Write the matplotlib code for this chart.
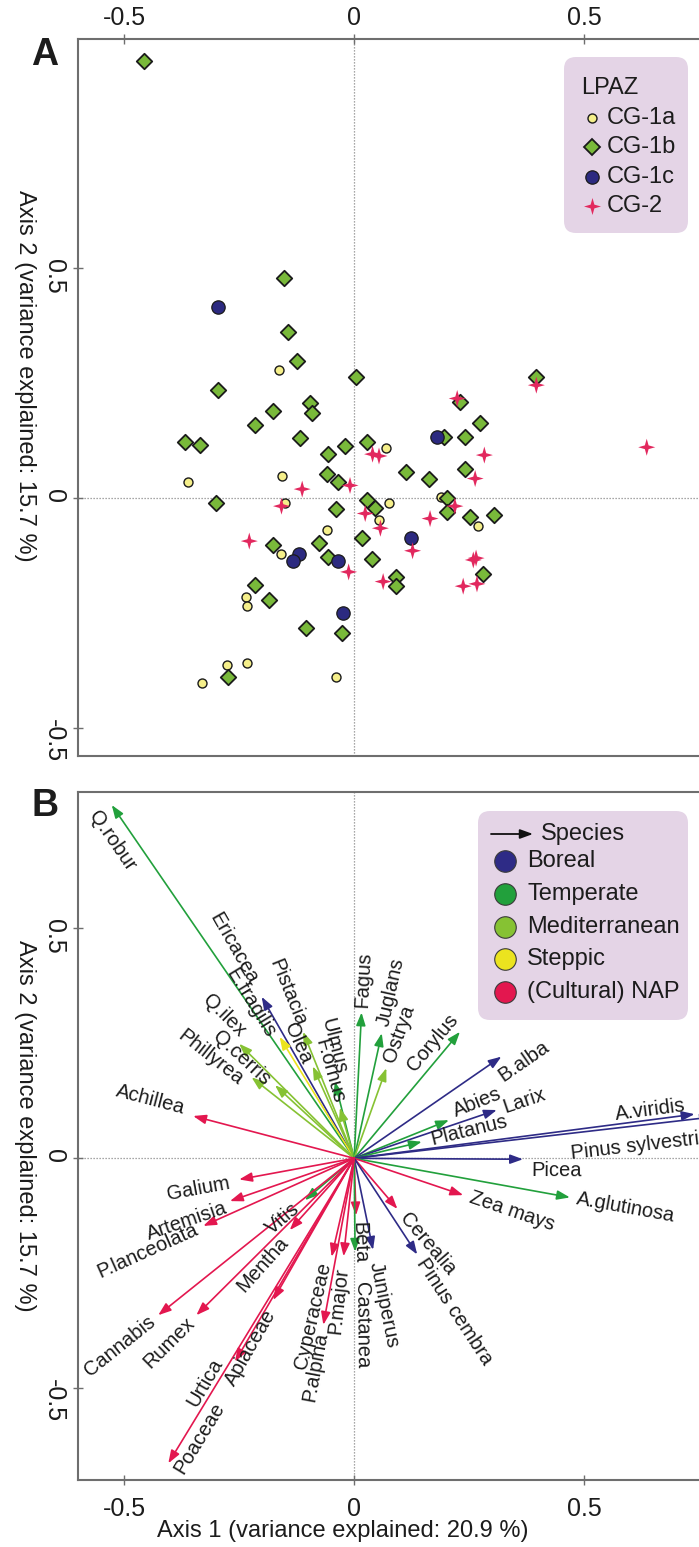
import numpy as np
import matplotlib
matplotlib.use("Agg")
import matplotlib.pyplot as plt
from matplotlib.path import Path
from matplotlib.patches import FancyBboxPatch
from matplotlib.transforms import Affine2D

plt.rcParams['font.family'] = ['Liberation Sans', 'DejaVu Sans']
plt.rcParams['axes.unicode_minus'] = False

W, H, DPI = 699, 1547, 100
SCALE = 460.0           # pixels per axis unit (both axes, equal aspect)
TXT = '#1c1c1c'
FRAME = '#6e6e6e'

# ---------------- Panel A: sample scores by pollen zone (LPAZ) ----------------
zones = ['CG-1a', 'CG-1b', 'CG-1c', 'CG-2']

cg1a_x = [-0.163, -0.361, -0.156, -0.151, -0.058, -0.158, -0.236, -0.234, -0.277,
          -0.232, -0.330, -0.040, 0.069, 0.075, 0.054, 0.188, 0.270]
cg1a_y = [0.279, 0.035, 0.048, -0.010, -0.069, -0.121, -0.214, -0.234, -0.362,
          -0.359, -0.402, -0.388, 0.109, -0.011, -0.047, 0.002, -0.060]

cg1b_x = [-0.457, -0.152, -0.143, -0.124, 0.005, -0.295, -0.096, -0.091, -0.176,
          -0.215, -0.118, -0.368, -0.335, -0.057, -0.019, -0.059, -0.035, -0.301,
          -0.040, -0.176, -0.076, -0.057, 0.016, -0.216, -0.185, -0.105, -0.026,
          -0.275, 0.396, 0.230, 0.273, 0.195, 0.241, 0.028, 0.112, 0.162, 0.241,
          0.027, 0.046, 0.038, 0.202, 0.201, 0.252, 0.304, 0.280, 0.090, 0.092]
cg1b_y = [0.950, 0.480, 0.362, 0.299, 0.264, 0.236, 0.208, 0.186, 0.190,
          0.159, 0.132, 0.122, 0.116, 0.097, 0.114, 0.053, 0.036, -0.010,
          -0.024, -0.102, -0.098, -0.127, -0.087, -0.188, -0.221, -0.281, -0.292,
          -0.388, 0.264, 0.210, 0.164, 0.133, 0.134, 0.122, 0.057, 0.041, 0.064,
          -0.004, -0.020, -0.132, 0.000, -0.029, -0.040, -0.036, -0.165, -0.170, -0.191]

cg1c_x = [-0.295, -0.120, -0.133, -0.035, -0.024, 0.179, 0.123]
cg1c_y = [0.415, -0.122, -0.136, -0.136, -0.250, 0.133, -0.087]

cg2_x = [-0.113, -0.009, -0.158, -0.228, -0.012, 0.396, 0.224, 0.040, 0.054, 0.283,
         0.263, 0.024, 0.057, 0.127, 0.165, 0.219, 0.259, 0.265, 0.237, 0.267,
         0.063, 0.636]
cg2_y = [0.020, 0.028, -0.017, -0.093, -0.160, 0.246, 0.217, 0.096, 0.092, 0.094,
         0.043, -0.033, -0.065, -0.114, -0.044, -0.017, -0.134, -0.130, -0.191, -0.186,
         -0.181, 0.111]

# ---------------- Panel B: species scores (arrow tips) ----------------
species = ['Q.robur', 'Ericacea', 'Pistacia', 'E.fragilis', 'Q.ilex', 'Olea', 'Ulmus',
           'F.ornus', 'Q.cerris', 'Phillyrea', 'Fagus', 'Juglans', 'Ostrya', 'Corylus',
           'B.alba', 'Abies', 'Larix', 'Platanus', 'A.viridis', 'Pinus sylvestris',
           'Picea', 'A.glutinosa', 'Zea mays', 'Cerealia', 'Pinus cembra', 'Juniperus',
           'Beta', 'Castanea', 'P.major', 'Cyperaceae', 'P.alpina', 'Apiaceae',
           'Urtica', 'Poaceae', 'Mentha', 'Vitis', 'Rumex', 'Cannabis',
           'P.lanceolata', 'Artemisia', 'Galium', 'Achillea']
sp_x = [-0.527, -0.201, -0.111, -0.162, -0.250, -0.090, -0.042,
        -0.031, -0.172, -0.223, 0.016, 0.060, 0.070, 0.230,
        0.320, 0.206, 0.310, 0.147, 0.740, 0.780,
        0.367, 0.469, 0.237, 0.094, 0.137, 0.041,
        0.004, 0.002, -0.023, -0.049, -0.067, -0.176,
        -0.259, -0.404, -0.140, -0.107, -0.343, -0.426,
        -0.328, -0.270, -0.250, -0.350]
sp_y = [0.768, 0.351, 0.275, 0.264, 0.249, 0.200, 0.167,
        0.110, 0.159, 0.176, 0.317, 0.272, 0.196, 0.275,
        0.221, 0.083, 0.105, 0.036, 0.096, 0.090,
        -0.002, -0.085, -0.080, -0.110, -0.209, -0.199,
        -0.124, -0.203, -0.213, -0.214, -0.362, -0.308,
        -0.442, -0.663, -0.156, -0.091, -0.341, -0.341,
        -0.147, -0.093, -0.046, 0.092]
sp_group = ['Temperate', 'Boreal', 'Mediterranean', 'Steppic', 'Mediterranean',
            'Mediterranean', 'Temperate', 'Mediterranean', 'Mediterranean',
            'Mediterranean', 'Temperate', 'Temperate', 'Mediterranean', 'Temperate',
            'Boreal', 'Temperate', 'Boreal', 'Temperate', 'Boreal', 'Boreal',
            'Boreal', 'Temperate', 'NAP', 'NAP', 'Boreal', 'Boreal',
            'NAP', 'Temperate', 'NAP', 'NAP', 'NAP', 'NAP',
            'NAP', 'NAP', 'NAP', 'Temperate', 'NAP', 'NAP',
            'NAP', 'NAP', 'NAP', 'NAP']

groups = ['Boreal', 'Temperate', 'Mediterranean', 'Steppic', 'NAP']
group_labels = ['Boreal', 'Temperate', 'Mediterranean', 'Steppic', '(Cultural) NAP']
group_colors = {'Boreal': '#2e2b86', 'Temperate': '#22a03c', 'Mediterranean': '#86c233',
                'Steppic': '#ebe31f', 'NAP': '#e3174f'}

tick_vals = [-0.5, 0, 0.5]
tick_text = ['-0.5', '0', '0.5']

# label nudges in pixels: (along arrow, perpendicular, run back along the arrow)
label_nudge = {
    'Q.robur': (5, 20, True), 'Poaceae': (2, 13, True), 'Corylus': (8, 14, True),
    'A.viridis': (-8, 10, True), 'Pinus sylvestris': (-6, -20, True),
    'B.alba': (-13, -16, False), 'Picea': (8, -11, False), 'Castanea': (30, 6, False),
    'Beta': (7, 3, False), 'Urtica': (7, -15, False), 'Apiaceae': (10, 4, False),
    'Cyperaceae': (7, -5, False), 'P.major': (11, 0, False), 'Juniperus': (12, 0, False),
    'Cerealia': (9, 0, False), 'Abies': (8, 6, False), 'Platanus': (10, 0, False),
    'Achillea': (10, -5, False), 'Galium': (10, 2, False), 'Artemisia': (5, 5, False),
    'Mentha': (10, 3, False), 'Vitis': (10, 0, False), 'Ericacea': (17, 0, False),
    'E.fragilis': (5, 7, False), 'Q.ilex': (5, -9, False), 'Q.cerris': (8, 3, False),
    'Phillyrea': (6, 10, False), 'Olea': (6, 4, False), 'F.ornus': (5, 0, False),
    'Ulmus': (6, -8, False), 'Fagus': (5, 0, False),
}

# image-pixel transform (origin top-left, y down) for legends and panel letters
pix = Affine2D().scale(1, -1).translate(0, H)

fig = plt.figure(figsize=(W / DPI, H / DPI), dpi=DPI)


def make_axes(left_px, top_px, xlim, ylim):
    wpx = (xlim[1] - xlim[0]) * SCALE
    hpx = (ylim[1] - ylim[0]) * SCALE
    ax = fig.add_axes([left_px / W, 1 - (top_px + hpx) / H, wpx / W, hpx / H])
    ax.set_xlim(*xlim)
    ax.set_ylim(*ylim)
    for s in ax.spines.values():
        s.set_color(FRAME)
        s.set_linewidth(1.5)
    ax.spines['right'].set_visible(False)
    ax.axhline(0, color='#8a8a8a', lw=0.9, ls=(0, (1, 1.4)), zorder=0)
    ax.axvline(0, color='#8a8a8a', lw=0.9, ls=(0, (1, 1.4)), zorder=0)
    ax.set_xticks(tick_vals)
    ax.set_xticklabels(tick_text)
    ax.set_yticks(tick_vals)
    ax.set_yticklabels(tick_text)
    ax.tick_params(direction='inout', length=7, width=1, color=FRAME,
                   labelsize=18, labelcolor=TXT)
    ax.tick_params(axis='y', labelrotation=270, pad=5)
    return ax


XLIM = (-0.601, 0.86)

# ---------------- Panel A ----------------
axA = make_axes(77.7, 39, XLIM, (-0.5596, 0.9985))
axA.xaxis.tick_top()
axA.tick_params(axis='x', top=True, bottom=False, labeltop=True, labelbottom=False, pad=3)
axA.spines['bottom'].set_visible(True)

star_path = Path([(0, 1), (0.22, 0.22), (1, 0), (0.22, -0.22), (0, -1), (-0.22, -0.22),
                  (-1, 0), (-0.22, 0.22), (0, 1)],
                 [Path.MOVETO] + [Path.LINETO] * 7 + [Path.CLOSEPOLY])

style = {
    'CG-1a': dict(marker='o', s=42, c='#f5ef8a', edgecolors='#1a1a1a', linewidths=1.0),
    'CG-1b': dict(marker='D', s=62, c='#79b93a', edgecolors='#1a1a1a', linewidths=1.3),
    'CG-1c': dict(marker='o', s=92, c='#2c2a80', edgecolors='#1a1a1a', linewidths=0.9),
    'CG-2': dict(marker=star_path, s=150, c='#e2285e', edgecolors='none', linewidths=0),
}
series = {'CG-1a': (cg1a_x, cg1a_y), 'CG-1b': (cg1b_x, cg1b_y),
          'CG-1c': (cg1c_x, cg1c_y), 'CG-2': (cg2_x, cg2_y)}
for z in ['CG-1a', 'CG-1b', 'CG-1c', 'CG-2']:
    xs, ys = series[z]
    axA.scatter(xs, ys, zorder=3, **style[z])

axA.set_ylabel('Axis 2 (variance explained: 15.7 %)', fontsize=17, color=TXT,
               rotation=270, va='center', ha='center')
axA.yaxis.set_label_coords(-0.0784, 0.53)

# LPAZ legend box
axA.add_patch(FancyBboxPatch((564, 57), 124, 176, boxstyle='round,pad=0,rounding_size=12',
                             transform=pix, facecolor='#e4d4e6', edgecolor='none',
                             zorder=5, clip_on=False))
axA.text(581, 88, 'LPAZ', transform=pix, fontsize=17, color=TXT, va='center', ha='left', zorder=6)
for i, z in enumerate(zones):
    yy = 118 + i * 29.3
    st = style[z]
    ms = np.sqrt(st['s'])
    axA.plot([592], [yy], transform=pix, linestyle='none', marker=st['marker'], markersize=ms,
             markerfacecolor=st['c'],
             markeredgecolor=st['edgecolors'] if st['edgecolors'] != 'none' else st['c'],
             markeredgewidth=st['linewidths'], clip_on=False, zorder=6)
    axA.text(607, yy, z, transform=pix, fontsize=17, color=TXT, va='center', ha='left', zorder=6)

axA.text(45, 65, 'A', transform=pix, fontsize=27, fontweight='bold', color=TXT,
         ha='center', va='baseline')

# ---------------- Panel B ----------------
axB = make_axes(77.7, 791.7, XLIM, (-0.6994, 0.797))
axB.tick_params(axis='x', pad=9)

for name, x, y, g in zip(species, sp_x, sp_y, sp_group):
    col = group_colors[g]
    axB.annotate('', xy=(x, y), xytext=(0, 0),
                 arrowprops=dict(arrowstyle='-|>,head_length=0.55,head_width=0.2',
                                 color=col, lw=1.2, shrinkA=0, shrinkB=0,
                                 mutation_scale=14),
                 zorder=3, annotation_clip=False)
    along, perp, back = label_nudge.get(name, (7, 0, False))
    ang = np.degrees(np.arctan2(y, x))
    flipped = abs(ang) > 90
    rot = ang - 180 if ang > 90 else (ang + 180 if ang < -90 else ang)
    d = np.array([np.cos(np.radians(ang)), np.sin(np.radians(ang))])
    n = np.array([-d[1], d[0]])
    off = d * along + n * perp
    if back:
        ha = 'left' if flipped else 'right'
    else:
        ha = 'right' if flipped else 'left'
    axB.annotate(name, xy=(x, y), xytext=(off[0], off[1]), textcoords='offset pixels',
                 rotation=rot, rotation_mode='anchor', ha=ha, va='center',
                 fontsize=14.5, color=TXT, zorder=4, annotation_clip=False)

axB.set_ylabel('Axis 2 (variance explained: 15.7 %)', fontsize=17, color=TXT,
               rotation=270, va='center', ha='center')
axB.yaxis.set_label_coords(-0.0784, 0.514)
axB.set_xlabel('Axis 1 (variance explained: 20.9 %)', fontsize=17, color=TXT, va='center')
axB.xaxis.set_label_coords(0.394, -0.074)

# species legend box
axB.add_patch(FancyBboxPatch((478, 811), 210, 209, boxstyle='round,pad=0,rounding_size=12',
                             transform=pix, facecolor='#e4d4e6', edgecolor='none',
                             zorder=5, clip_on=False))
axB.annotate('', xy=(533, 834), xytext=(491, 834), xycoords=pix, textcoords=pix,
             arrowprops=dict(arrowstyle='-|>,head_length=0.55,head_width=0.2', color='#111111',
                             lw=1.3, shrinkA=0, shrinkB=0, mutation_scale=14), zorder=6)
axB.text(541, 834, 'Species', transform=pix, fontsize=17, color=TXT, va='center', ha='left', zorder=6)
for i, (g, lab) in enumerate(zip(groups, group_labels)):
    yy = 861 + i * 32.8
    axB.plot([505], [yy], transform=pix, linestyle='none', marker='o', markersize=15.5,
             markerfacecolor=group_colors[g], markeredgecolor='#3a3a3a', markeredgewidth=0.8,
             clip_on=False, zorder=6)
    axB.text(527, yy, lab, transform=pix, fontsize=17, color=TXT, va='center', ha='left', zorder=6)

axB.text(45, 816, 'B', transform=pix, fontsize=27, fontweight='bold', color=TXT,
         ha='center', va='baseline')

fig.savefig('out.png', dpi=DPI)
